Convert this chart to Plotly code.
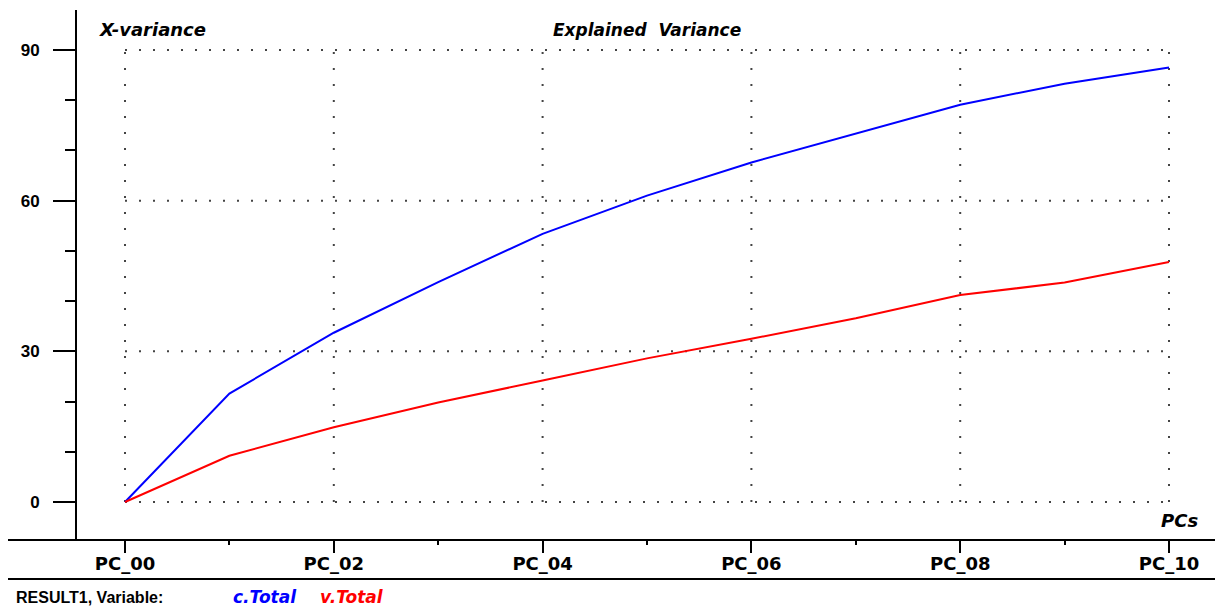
import plotly.graph_objects as go

# ---- data ----
pcs = [0, 1, 2, 3, 4, 5, 6, 7, 8, 9, 10]
pc_labels = ["PC_00", "PC_02", "PC_04", "PC_06", "PC_08", "PC_10"]
pc_label_pos = [0, 2, 4, 6, 8, 10]
c_total = [0.0, 21.6, 33.7, 43.8, 53.4, 61.0, 67.6, 73.3, 79.1, 83.3, 86.5]
v_total = [0.0, 9.2, 14.9, 19.8, 24.2, 28.6, 32.5, 36.6, 41.2, 43.7, 47.8]
y_ticks = [0, 30, 60, 90]

W, H = 1215, 610
L, R, T, B = 77, 1215, 10, 540


def px(x):
    return (x - L) / (R - L)


def py(y):
    return (B - y) / (B - T)


fig = go.Figure()
fig.add_trace(go.Scatter(x=pcs, y=c_total, mode="lines", name="c.Total",
                         line=dict(color="#0000ff", width=2)))
fig.add_trace(go.Scatter(x=pcs, y=v_total, mode="lines", name="v.Total",
                         line=dict(color="#ff0000", width=2)))

font_x = dict(family="DejaVu Sans, sans-serif", size=18, color="black", weight="bold")
font_y = dict(family="Liberation Sans Narrow, Liberation Sans, Arial, sans-serif", size=17,
              color="black", weight="bold")

# pixel scale derived from reference positions
xu = (1169 - 125) / 10.0
yu = (502 - 50) / 90.0
xr = [(L - 125) / xu, 10 + (R - 1169) / xu]
yr = [-(B - 502) / yu, (502 - T) / yu]

fig.update_layout(
    width=W, height=H,
    margin=dict(l=L, r=W - R, t=T, b=H - B, pad=0),
    plot_bgcolor="white", paper_bgcolor="white",
    showlegend=False,
    xaxis=dict(range=xr, showgrid=False, zeroline=False, showline=False,
               tickvals=pc_label_pos, ticktext=pc_labels,
               ticks="outside", ticklen=12, tickwidth=2, tickcolor="black",
               tickfont=font_x, ticklabelstandoff=-5,
               minor=dict(dtick=1, tick0=0, ticks="outside", ticklen=4,
                          tickwidth=2, tickcolor="black", showgrid=False)),
    yaxis=dict(range=yr, showgrid=False, zeroline=False, showline=True,
               linecolor="black", linewidth=2,
               tickvals=y_ticks, ticks="outside", ticklen=22, tickwidth=2,
               tickcolor="black", tickfont=font_y, ticklabelstandoff=10,
               minor=dict(dtick=10, tick0=0, ticks="outside", ticklen=10,
                          tickwidth=2, tickcolor="black", showgrid=False)),
)

shapes = []
# dotted grid box
for yv in y_ticks:
    shapes.append(dict(type="line", xref="x", yref="y", x0=0, x1=10, y0=yv, y1=yv,
                       layer="below", line=dict(color="#444", width=2, dash="2px,12px")))
for xv in pc_label_pos:
    shapes.append(dict(type="line", xref="x", yref="y", x0=xv, x1=xv, y0=0, y1=90,
                       layer="below", line=dict(color="#444", width=2, dash="2px,14px")))
# x axis line and bottom separator
shapes.append(dict(type="line", xref="paper", yref="paper", x0=px(8), x1=px(1215),
                   y0=py(540), y1=py(540), line=dict(color="black", width=2)))
shapes.append(dict(type="line", xref="paper", yref="paper", x0=px(8), x1=px(1215),
                   y0=py(579), y1=py(579), line=dict(color="black", width=2)))
fig.update_layout(shapes=shapes)

font_bi = dict(family="DejaVu Sans, sans-serif", size=17, color="black",
               weight="bold", style="italic")
ann = [
    dict(text="X-variance", x=px(97), y=py(30), xanchor="left", yanchor="middle",
         font=dict(font_bi, size=18)),
    dict(text="Explained  Variance", x=px(647), y=py(30), xanchor="center", yanchor="middle", font=font_bi),
    dict(text="PCs", x=px(1200), y=py(520), xanchor="right", yanchor="middle",
         font=dict(font_bi, size=18)),
    dict(text="RESULT1, Variable:", x=px(14), y=py(597), xanchor="left", yanchor="middle",
         font=dict(family="Liberation Sans Narrow, Liberation Sans, Arial, sans-serif",
                   size=16, color="black", weight="bold")),
    dict(text="c.Total", x=px(231), y=py(597), xanchor="left", yanchor="middle",
         font=dict(font_bi, size=17, color="#0000ff")),
    dict(text="v.Total", x=px(318), y=py(597), xanchor="left", yanchor="middle",
         font=dict(font_bi, size=17, color="#ff0000")),
]
for a in ann:
    a.update(xref="paper", yref="paper", showarrow=False)
fig.update_layout(annotations=ann)

fig.write_html("out.html", config={"displayModeBar": False},
               post_script="document.body.style.margin='0';document.body.style.overflow='hidden';")
